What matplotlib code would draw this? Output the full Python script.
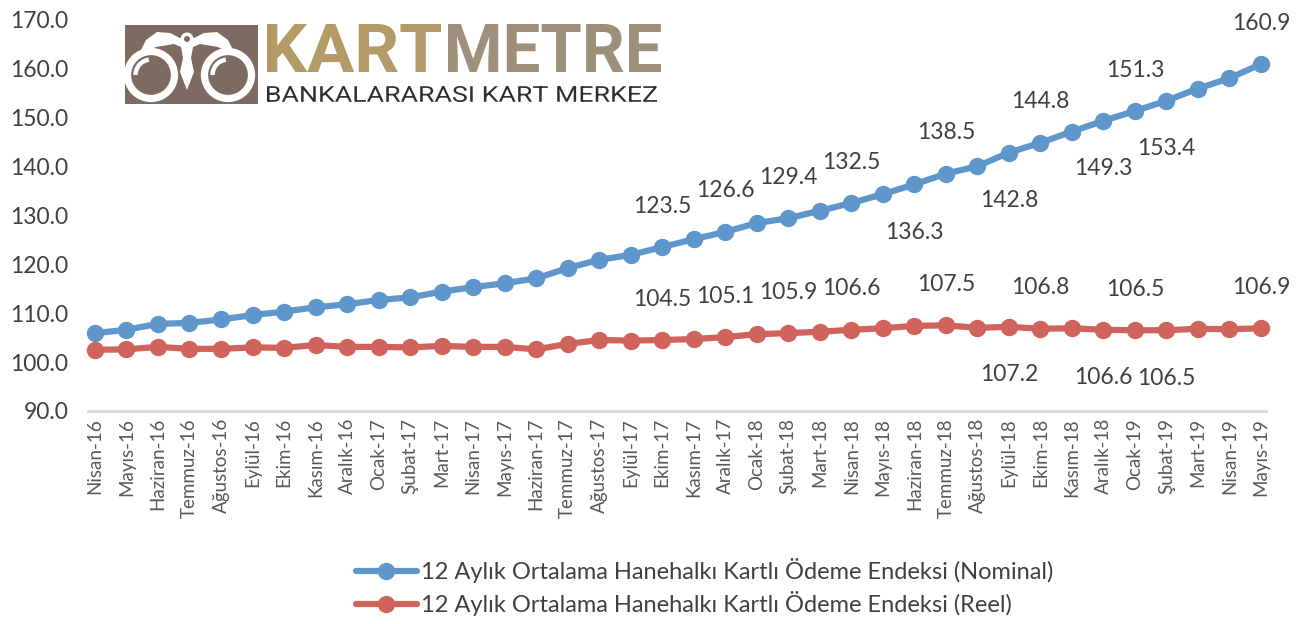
# kartmetre - 12 aylik ortalama hanehalki kartli odeme endeksi

import numpy as np
import matplotlib
matplotlib.use('Agg')
import matplotlib.pyplot as plt
from matplotlib.textpath import TextPath
from matplotlib.font_manager import FontProperties
from matplotlib.patches import PathPatch, Circle, Polygon, Arc, Rectangle
from matplotlib.transforms import Affine2D

plt.rcParams['font.family'] = ['Lato', 'DejaVu Sans']

months = ['Nisan-16', 'Mayıs-16', 'Haziran-16', 'Temmuz-16', 'Ağustos-16', 'Eylül-16',
          'Ekim-16', 'Kasım-16', 'Aralık-16', 'Ocak-17', 'Şubat-17', 'Mart-17',
          'Nisan-17', 'Mayıs-17', 'Haziran-17', 'Temmuz-17', 'Ağustos-17', 'Eylül-17',
          'Ekim-17', 'Kasım-17', 'Aralık-17', 'Ocak-18', 'Şubat-18', 'Mart-18',
          'Nisan-18', 'Mayıs-18', 'Haziran-18', 'Temmuz-18', 'Ağustos-18', 'Eylül-18',
          'Ekim-18', 'Kasım-18', 'Aralık-18', 'Ocak-19', 'Şubat-19', 'Mart-19',
          'Nisan-19', 'Mayıs-19']

nominal = [105.9, 106.6, 107.8, 108.0, 108.7, 109.6, 110.3, 111.2, 111.8, 112.7,
           113.2, 114.4, 115.3, 116.1, 117.1, 119.2, 120.9, 121.9, 123.5, 125.1,
           126.6, 128.4, 129.4, 130.9, 132.5, 134.3, 136.3, 138.5, 140.0, 142.8,
           144.8, 147.1, 149.3, 151.3, 153.4, 155.9, 158.0, 160.9]

reel = [102.5, 102.6, 103.1, 102.7, 102.7, 103.0, 102.9, 103.5, 103.1, 103.1,
        103.0, 103.3, 103.1, 103.1, 102.6, 103.7, 104.5, 104.4, 104.5, 104.7,
        105.1, 105.7, 105.9, 106.2, 106.6, 106.9, 107.4, 107.5, 107.0, 107.2,
        106.8, 106.9, 106.6, 106.5, 106.5, 106.8, 106.7, 106.9]

# which points get a data label, above or below the marker
nominal_up = [18, 20, 22, 24, 27, 30, 33, 37]
nominal_down = [26, 29, 32, 34]
reel_up = [18, 20, 22, 24, 27, 30, 33, 37]
reel_down = [29, 32, 34]

names = ['12 Aylık Ortalama Hanehalkı Kartlı Ödeme Endeksi (Nominal)',
         '12 Aylık Ortalama Hanehalkı Kartlı Ödeme Endeksi (Reel)']

blue = '#5F97CC'
red = '#D0645D'
txt = '#404040'

W, H = 1296, 624
fig = plt.figure(figsize=(W / 100, H / 100), dpi=100)
ax = fig.add_axes([88 / W, 1 - 411 / H, (1266 - 88) / W, (411 - 19.5) / H])

x = np.arange(len(months))
ax.plot(x, nominal, color=blue, lw=4.5, marker='o', ms=11.5, label=names[0],
        solid_capstyle='round', zorder=3, clip_on=False)
ax.plot(x, reel, color=red, lw=4.5, marker='o', ms=11.5, label=names[1],
        solid_capstyle='round', zorder=3, clip_on=False)

def put_labels(vals, up, down):
    for i in up:
        ax.annotate(f'{vals[i]:.1f}', (x[i], vals[i]), xytext=(0, 29.5),
                    textcoords='offset points', ha='center', va='center',
                    fontsize=16.5, color=txt, annotation_clip=False)
    for i in down:
        ax.annotate(f'{vals[i]:.1f}', (x[i], vals[i]), xytext=(0, -34.5),
                    textcoords='offset points', ha='center', va='center',
                    fontsize=16.5, color=txt, annotation_clip=False)

put_labels(nominal, nominal_up, nominal_down)
put_labels(reel, reel_up, reel_down)

ax.set_xlim(-0.22, 37.16)
ax.set_ylim(90, 170)
ax.set_yticks(np.arange(90, 171, 10))
ax.set_yticklabels([f'{v:.1f}' for v in np.arange(90, 171, 10)])
ax.set_xticks(x)
ax.set_xticklabels(months, rotation=90, fontsize=13.5, color='#595959')
ax.tick_params(axis='y', length=0, pad=14, labelsize=16.5, labelcolor=txt)
ax.tick_params(axis='x', length=0, pad=5)
for s in ['top', 'right', 'left']:
    ax.spines[s].set_visible(False)
ax.spines['bottom'].set_color('#D9D9D9')
ax.spines['bottom'].set_linewidth(2)

fig.legend(loc='upper center', bbox_to_anchor=(705 / W, 1 - 546 / H), ncol=1, frameon=False,
           fontsize=17, handlelength=2.55, handletextpad=0.2, labelspacing=0.35,
           labelcolor=txt, borderpad=0)

# logo, drawn in image pixel coordinates
lg = fig.add_axes([0, 0, 1, 1], zorder=5)
lg.set_xlim(0, W)
lg.set_ylim(H, 0)
lg.set_axis_off()
lg.patch.set_alpha(0)

def fit_text(s, x0, x1, ytop, ybot, color, weight):
    tp = TextPath((0, 0), s, size=100, prop=FontProperties(family='Roboto', weight=weight))
    bb = tp.get_extents()
    tr = Affine2D().translate(-bb.x0, -bb.y0).scale((x1 - x0) / bb.width, -(ybot - ytop) / bb.height).translate(x0, ybot)
    lg.add_patch(PathPatch(tr.transform_path(tp), color=color, lw=0))

brown = '#7D6B62'
lg.add_patch(Rectangle((125, 25), 133, 79, color=brown, lw=0))
for cx in [151, 228]:
    lg.add_patch(Circle((cx, 75), 23.5, fill=False, ec='white', lw=5.2))
    lg.add_patch(Arc((cx, 75), 31, 31, theta1=180, theta2=262, color='white', lw=3.2))
lg.add_patch(Polygon([(138, 56), (146, 40), (157, 32), (170, 33), (180, 38), (194, 38),
                      (204, 33), (217, 32), (228, 40), (236, 56), (218, 47), (200, 44),
                      (193, 47), (191, 58), (194, 72), (187, 90), (180, 72), (183, 58),
                      (181, 47), (174, 44), (156, 47)], closed=True, color='white', lw=0))
lg.add_patch(Circle((187, 39), 6.5, color='white', lw=0))
lg.add_patch(Circle((187, 39), 3, color=brown, lw=0))

fit_text('KART', 267, 441, 24, 72, '#B39B67', 'bold')
fit_text('METRE', 448, 661, 24, 72, '#9E8F7A', 'bold')
fit_text('BANKALARARASI KART MERKEZ', 267, 657, 86, 102, '#2E2E2E', 'normal')

fig.savefig('out.png', dpi=100)
